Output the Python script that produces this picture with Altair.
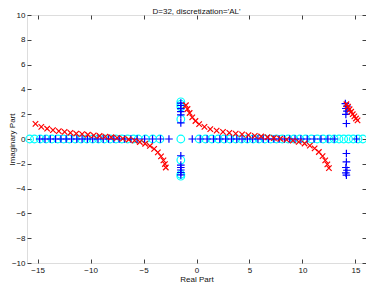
import altair as alt
import pandas as pd

TITLE = "D=32, discretization='AL'"
X_TICKS = [-15, -10, -5, 0, 5, 10, 15]
Y_TICKS = [-10, -8, -6, -4, -2, 0, 2, 4, 6, 8, 10]

# cyan circles
circ_x = [-15.75, -15.3, -14.75, -14.2, -13.65, -13.1, -12.55, -12.0, -11.45, -10.9,
          -10.35, -9.8, -9.25, -8.7, -8.15, -7.6, -7.05, -6.5, -5.95, -5.5, -4.82,
          -4.13, -3.45, -1.48,
          0.25, 0.85, 1.45, 2.05, 2.6, 3.15, 3.7, 4.25, 4.8, 5.35, 5.9, 6.45, 7.0,
          7.55, 8.1, 8.65, 9.2, 9.75, 10.3, 10.85, 11.4, 11.95, 12.5, 13.0, 13.45,
          13.9, 14.35, 14.8, 15.25, 15.7,
          -1.48, -1.48, -1.48, -1.48, -1.48, -1.48, -1.48]
circ_y = [0] * 54 + [3.0, 2.8, 2.6, 1.6, -1.7, -2.85, -3.0]

# blue plus markers
plus_x = [-14.8, -14.3, -13.8, -13.3, -12.8, -12.3, -11.8, -11.3, -10.8, -10.3, -9.8,
          -9.3, -8.8, -8.3, -7.8, -7.3, -6.8, -6.2, -5.6, -4.9, -4.15, -3.4, -2.6,
          -0.4, 0.35, 1.0, 1.6, 2.2, 2.75, 3.3, 3.8, 4.3, 4.8, 5.3, 5.8, 6.3, 6.8,
          7.3, 7.8, 8.3, 8.8, 9.3, 9.85, 10.45, 11.1, 11.75, 12.4, 13.0, 15.1,
          -1.48, -1.48, -1.48, -1.48, -1.48, -1.48, -1.48, -1.48, -1.48, -1.48, -1.48, -1.48,
          14.05, 14.2, 14.1, 14.2, 14.1, 14.15, 14.15, 14.15, 14.1, 14.2, 14.1, 14.15]
plus_y = [0] * 49 + [2.9, 2.7, 2.45, 2.2, 1.95, 1.3, -1.35, -2.1, -2.3, -2.5, -2.7, -2.9,
                     2.86, 2.65, 2.46, 2.24, 1.98, 1.25, -1.17, -1.85, -2.3, -2.52, -2.73, -2.92]

# red x markers
red_x = [-15.2, -14.65, -14.1, -13.55, -13.0, -12.45, -11.9, -11.35, -10.8, -10.25, -9.7,
         -9.15, -8.6, -8.05, -7.5, -6.95, -6.4, -5.85, -5.35, -4.85, -4.4, -4.0, -3.65,
         -3.35, -3.12, -2.98, -2.9,
         -1.0, -0.85, -0.65, -0.4, -0.1, 0.25, 0.75, 1.3, 1.9, 2.5, 3.1, 3.7, 4.3, 4.9,
         5.5, 6.1, 6.7, 7.3, 7.9, 8.5, 9.1, 9.65, 10.2, 10.7, 11.15, 11.55, 11.9, 12.15,
         12.35, 12.5,
         14.15, 14.3, 14.45, 14.6, 14.75, 14.9, 15.05, 15.2]
red_y = [1.22, 0.98, 0.83, 0.72, 0.64, 0.57, 0.5, 0.44, 0.39, 0.34, 0.29, 0.24, 0.19,
         0.14, 0.09, 0.03, -0.04, -0.13, -0.24, -0.38, -0.56, -0.8, -1.08, -1.4, -1.72,
         -2.02, -2.3,
         2.72, 2.42, 2.1, 1.75, 1.45, 1.2, 0.98, 0.8, 0.67, 0.57, 0.5, 0.43, 0.37, 0.31,
         0.25, 0.2, 0.14, 0.08, 0.02, -0.05, -0.13, -0.23, -0.36, -0.53, -0.76, -1.05,
         -1.38, -1.72, -2.05, -2.35,
         2.8, 2.6, 2.4, 2.2, 2.0, 1.82, 1.65, 1.5]

KINDS = ["o", "+", "x"]
COLORS = ["#00ffff", "#0000ff", "#ff0000"]
SHAPES = ["circle", "M-1,0L1,0M0,-1L0,1", "M-0.72,-0.72L0.72,0.72M-0.72,0.72L0.72,-0.72"]

FONT = "Liberation Sans"
df = pd.concat([
    pd.DataFrame({"re": circ_x, "im": circ_y, "kind": "o"}),
    pd.DataFrame({"re": plus_x, "im": plus_y, "kind": "+"}),
    pd.DataFrame({"re": red_x, "im": red_y, "kind": "x"}),
], ignore_index=True)

xscale = alt.Scale(domain=[-16, 16], nice=False, zero=False)
yscale = alt.Scale(domain=[-10, 10], nice=False, zero=False)

common_axis = dict(offset=-4, tickSize=4, domain=False, grid=False, labelFlush=False,
                   labelFontSize=8, titleFontSize=8, titleFontWeight="normal",
                   labelFont=FONT, titleFont=FONT, tickColor="#404040",
                   labelColor="#111111", titleColor="#111111")

points = alt.Chart(df).mark_point(filled=False, size=58, strokeWidth=1.2, opacity=1).encode(
    x=alt.X("re:Q", scale=xscale,
            axis=alt.Axis(values=X_TICKS, title="Real Part", labelPadding=3,
                          titlePadding=1, orient="bottom", **common_axis)),
    y=alt.Y("im:Q", scale=yscale,
            axis=alt.Axis(values=Y_TICKS, title="Imaginary Part", labelPadding=2,
                          titlePadding=-5, orient="left", **common_axis)),
    color=alt.Color("kind:N", scale=alt.Scale(domain=KINDS, range=COLORS), legend=None),
    shape=alt.Shape("kind:N", scale=alt.Scale(domain=KINDS, range=SHAPES), legend=None),
)

frame = alt.Chart(df).mark_point(opacity=0, size=1).encode(
    x=alt.X("re:Q", scale=xscale,
            axis=alt.Axis(values=X_TICKS, orient="top", labels=False, title=None,
                          offset=-4, tickSize=4, domain=False, grid=False,
                          tickColor="#404040")),
    y=alt.Y("im:Q", scale=yscale,
            axis=alt.Axis(values=Y_TICKS, orient="right", labels=False, title=None,
                          offset=-4, tickSize=4, domain=False, grid=False,
                          tickColor="#404040")),
)

chart = alt.layer(points, frame).properties(
    width=339, height=248,
    title=alt.TitleParams(TITLE, fontSize=8, fontWeight="normal", font=FONT,
                          color="#111111", offset=-5),
    autosize=alt.AutoSizeParams(type="none"),
    padding={"left": 19, "top": 7, "right": 0, "bottom": 20},
).configure_view(stroke="#404040", strokeWidth=1).configure(background="white")

chart.save("out.html", embed_options={"renderer": "svg", "actions": False})
